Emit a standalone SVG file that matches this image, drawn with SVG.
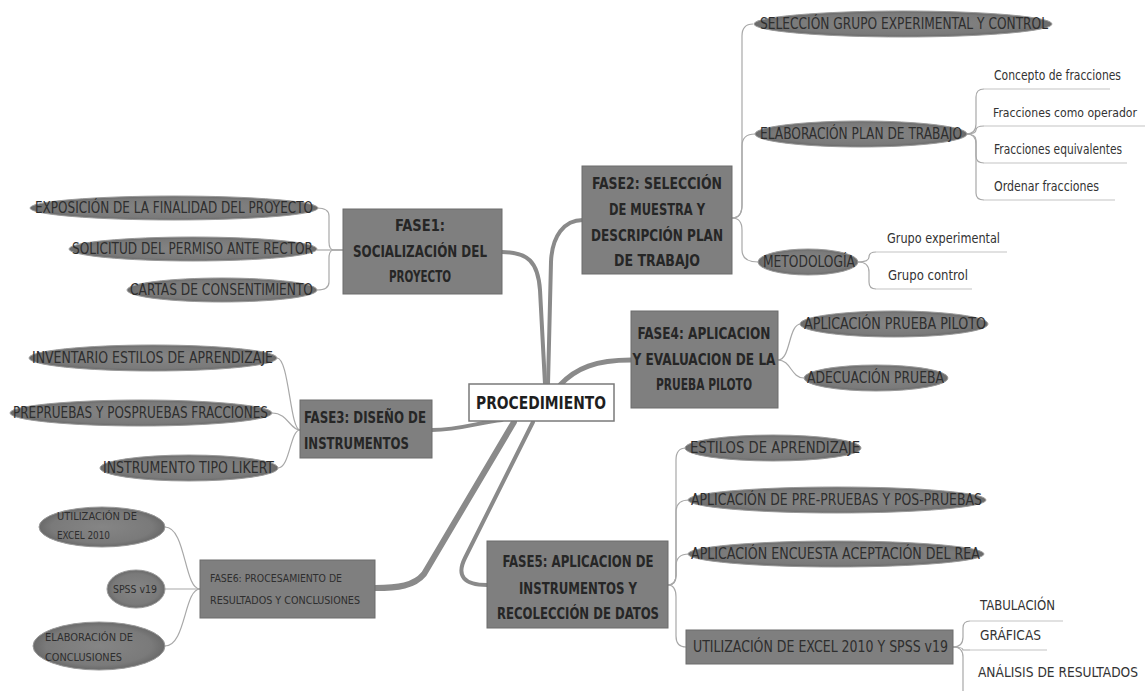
<svg xmlns="http://www.w3.org/2000/svg" width="1147" height="691" viewBox="0 0 1147 691">
<defs>
<radialGradient id="eg" cx="50%" cy="50%" r="50%">
<stop offset="0" stop-color="#858585"/>
<stop offset="0.8" stop-color="#7a7a7a"/>
<stop offset="1" stop-color="#6a6a6a"/>
</radialGradient>
<style>
.bg{fill:#ffffff}
.ell{fill:url(#eg);stroke:#9a9a9a;stroke-width:1}
.box{fill:#7f7f7f;stroke:#6c6c6c;stroke-width:1}
.root{fill:#ffffff;stroke:#7a7a7a;stroke-width:1.5}
.et{font-family:"DejaVu Sans Condensed","Liberation Sans",sans-serif;font-size:15px;fill:#2e2e2e;dominant-baseline:central}
.bt{font-family:"DejaVu Sans Condensed","Liberation Sans",sans-serif;font-size:15px;font-weight:bold;fill:#262626;dominant-baseline:central;text-anchor:middle}
.btl{text-anchor:start}
.rt{font-family:"DejaVu Sans Condensed","Liberation Sans",sans-serif;font-size:17px;font-weight:bold;fill:#1e1e1e;dominant-baseline:central;text-anchor:middle}
.pt{font-family:"DejaVu Sans Condensed","Liberation Sans",sans-serif;font-size:14px;fill:#333333;dominant-baseline:central}
.pts{font-size:12.5px}
.st{font-family:"DejaVu Sans Condensed","Liberation Sans",sans-serif;font-size:11px;fill:#2e2e2e;dominant-baseline:central}
.tr{fill:none;stroke:#8a8a8a;stroke-linecap:round}
.br{fill:none;stroke:#a8a8a8;stroke-width:1.2}
.ul{fill:none;stroke:#c4c4c4;stroke-width:1.2}
</style>
</defs>
<rect class="bg" x="0" y="0" width="1147" height="691"/>

<g id="connectors">
<path class="tr" stroke-width="4" d="M502,252 C528,252 538,262 540,290 L545,384"/>
<path class="tr" stroke-width="4" d="M548,384 L551,262 C552,236 564,220 583,220"/>
<path class="tr" stroke-width="5" d="M560,385 C576,368 596,360 631,360"/>
<path class="tr" stroke-width="4" d="M432,430 C460,430 480,422 502,420"/>
<path class="tr" stroke-width="6" d="M375,588 C398,588 414,586 424,574 L514,422"/>
<path class="tr" stroke-width="4" d="M533,422 L465,558 C456,576 464,585 487,585"/>
<path class="br" d="M343,250 H334 Q329,250 329,242 V216 Q329,208 317,208"/>
<path class="br" d="M343,250 H317"/>
<path class="br" d="M343,250 H334 Q329,250 329,258 V282 Q329,290 317,290"/>
<path class="br" d="M300,430 C290,430 289,358 277,358"/>
<path class="br" d="M300,430 C290,430 288,413 272,413"/>
<path class="br" d="M300,430 C290,430 290,468 278,468"/>
<path class="br" d="M200,589 C184,589 186,527 165,527"/>
<path class="br" d="M200,589 H165"/>
<path class="br" d="M200,589 C184,589 186,646 165,646"/>
<path class="br" d="M732,218 Q742,218 742,205 V36 Q742,24 753,24"/>
<path class="br" d="M732,218 Q742,218 742,205 V146 Q742,134 755,134"/>
<path class="br" d="M732,218 Q742,218 742,230 V250 Q742,262 758,262"/>
<path class="br" d="M966,134 Q976,134 976,124 V97 Q976,89 984,89"/>
<path class="br" d="M966,134 Q976,134 976,130 Q976,126 984,126"/>
<path class="br" d="M966,134 Q976,134 976,140 V156 Q976,163 984,163"/>
<path class="br" d="M966,134 Q976,134 976,144 V193 Q976,200 984,200"/>
<path class="ul" d="M984,89 H1110 M984,126 H1145 M984,163 H1127 M984,200 H1115"/>
<path class="br" d="M858,262 Q869,262 869,257 Q869,252 876,252"/>
<path class="br" d="M858,262 Q869,262 869,272 V282 Q869,289 876,289"/>
<path class="ul" d="M876,252 H1007 M876,289 H972"/>
<path class="br" d="M778,360 C791,360 788,324 801,324"/>
<path class="br" d="M778,360 C791,360 791,378 804,378"/>
<path class="br" d="M668,585 Q676,585 676,575 V460 Q676,448 686,448"/>
<path class="br" d="M668,585 Q676,585 676,575 V512 Q676,500 689,500"/>
<path class="br" d="M668,585 Q676,585 676,575 V566 Q676,554 689,554"/>
<path class="br" d="M668,585 Q676,585 676,597 V636 Q676,647 686,647"/>
<path class="br" d="M953,647 Q963,647 963,637 V628 Q963,621 970,621"/>
<path class="br" d="M953,647 Q963,647 963,650 Q963,650 970,650"/>
<path class="br" d="M953,647 Q963,647 963,657 V691"/>
<path class="ul" d="M970,621 H1063 M970,650 H1047"/>
</g>

<g id="root">
<rect class="root" x="469" y="384" width="145" height="37"/>
<text class="rt" x="541" y="403" textLength="130" lengthAdjust="spacingAndGlyphs">PROCEDIMIENTO</text>
</g>

<g id="fase1">
<rect class="box" x="343" y="209" width="159" height="85"/>
<text class="bt" x="420" y="226" textLength="50" lengthAdjust="spacingAndGlyphs">FASE1:</text>
<text class="bt" x="420" y="252" textLength="134" lengthAdjust="spacingAndGlyphs">SOCIALIZACIÓN DEL</text>
<text class="bt" x="420" y="277" textLength="62" lengthAdjust="spacingAndGlyphs">PROYECTO</text>
</g>
<g id="f1a">
<ellipse class="ell" cx="174" cy="208" rx="144" ry="12"/>
<text class="et" x="35" y="208" textLength="278" lengthAdjust="spacingAndGlyphs">EXPOSICIÓN DE LA FINALIDAD DEL PROYECTO</text>
</g>
<g id="f1b">
<ellipse class="ell" cx="193" cy="249" rx="124" ry="12"/>
<text class="et" x="72" y="249" textLength="241" lengthAdjust="spacingAndGlyphs">SOLICITUD DEL PERMISO ANTE RECTOR</text>
</g>
<g id="f1c">
<ellipse class="ell" cx="222" cy="290" rx="95" ry="12"/>
<text class="et" x="130" y="290" textLength="183" lengthAdjust="spacingAndGlyphs">CARTAS DE CONSENTIMIENTO</text>
</g>

<g id="fase3">
<rect class="box" x="300" y="400" width="132" height="58"/>
<text class="bt btl" x="304" y="418" textLength="122" lengthAdjust="spacingAndGlyphs">FASE3: DISEÑO DE</text>
<text class="bt btl" x="304" y="444" textLength="105" lengthAdjust="spacingAndGlyphs">INSTRUMENTOS</text>
</g>
<g id="f3a">
<ellipse class="ell" cx="153" cy="358" rx="124" ry="13"/>
<text class="et" x="32" y="358" textLength="241" lengthAdjust="spacingAndGlyphs">INVENTARIO ESTILOS DE APRENDIZAJE</text>
</g>
<g id="f3b">
<ellipse class="ell" cx="141" cy="413" rx="131" ry="13"/>
<text class="et" x="13" y="413" textLength="255" lengthAdjust="spacingAndGlyphs">PREPRUEBAS Y POSPRUEBAS FRACCIONES</text>
</g>
<g id="f3c">
<ellipse class="ell" cx="189" cy="468" rx="89" ry="13"/>
<text class="et" x="103" y="468" textLength="171" lengthAdjust="spacingAndGlyphs">INSTRUMENTO TIPO LIKERT</text>
</g>

<g id="fase6">
<rect class="box" x="200" y="560" width="175" height="58"/>
<text class="st" x="210" y="578" textLength="132" lengthAdjust="spacingAndGlyphs">FASE6: PROCESAMIENTO DE</text>
<text class="st" x="210" y="600" textLength="150" lengthAdjust="spacingAndGlyphs">RESULTADOS Y CONCLUSIONES</text>
</g>
<g id="f6a">
<ellipse class="ell" cx="102" cy="527" rx="63" ry="20"/>
<text class="st" x="57" y="516" textLength="80" lengthAdjust="spacingAndGlyphs">UTILIZACIÓN DE</text>
<text class="st" x="57" y="535" textLength="53" lengthAdjust="spacingAndGlyphs">EXCEL 2010</text>
</g>
<g id="f6b">
<ellipse class="ell" cx="136" cy="589" rx="29" ry="19"/>
<text class="st" x="113" y="589" textLength="44" lengthAdjust="spacingAndGlyphs">SPSS v19</text>
</g>
<g id="f6c">
<ellipse class="ell" cx="99" cy="646" rx="66" ry="24"/>
<text class="st" x="45" y="637" textLength="88" lengthAdjust="spacingAndGlyphs">ELABORACIÓN DE</text>
<text class="st" x="45" y="657" textLength="77" lengthAdjust="spacingAndGlyphs">CONCLUSIONES</text>
</g>

<g id="fase2">
<rect class="box" x="582" y="166" width="150" height="108"/>
<text class="bt" x="657" y="184" textLength="130" lengthAdjust="spacingAndGlyphs">FASE2: SELECCIÓN</text>
<text class="bt" x="657" y="210" textLength="96" lengthAdjust="spacingAndGlyphs">DE MUESTRA Y</text>
<text class="bt" x="657" y="236" textLength="132" lengthAdjust="spacingAndGlyphs">DESCRIPCIÓN PLAN</text>
<text class="bt" x="657" y="261" textLength="86" lengthAdjust="spacingAndGlyphs">DE TRABAJO</text>
</g>
<g id="f2a">
<ellipse class="ell" cx="903" cy="24" rx="149" ry="13"/>
<text class="et" x="760" y="24" textLength="288" lengthAdjust="spacingAndGlyphs">SELECCIÓN GRUPO EXPERIMENTAL Y CONTROL</text>
</g>
<g id="f2b">
<ellipse class="ell" cx="861" cy="134" rx="106" ry="13"/>
<text class="et" x="760" y="134" textLength="202" lengthAdjust="spacingAndGlyphs">ELABORACIÓN PLAN DE TRABAJO</text>
</g>
<g id="f2b1"><text class="pt" x="994" y="75" textLength="127" lengthAdjust="spacingAndGlyphs">Concepto de fracciones</text></g>
<g id="f2b2"><text class="pt pts" x="993" y="112" textLength="144" lengthAdjust="spacingAndGlyphs">Fracciones como operador</text></g>
<g id="f2b3"><text class="pt" x="994" y="149" textLength="128" lengthAdjust="spacingAndGlyphs">Fracciones equivalentes</text></g>
<g id="f2b4"><text class="pt" x="994" y="186" textLength="105" lengthAdjust="spacingAndGlyphs">Ordenar fracciones</text></g>
<g id="f2c">
<ellipse class="ell" cx="808" cy="262" rx="50" ry="13"/>
<text class="et" x="763" y="262" textLength="92" lengthAdjust="spacingAndGlyphs">METODOLOGÍA</text>
</g>
<g id="f2c1"><text class="pt" x="887" y="238" textLength="113" lengthAdjust="spacingAndGlyphs">Grupo experimental</text></g>
<g id="f2c2"><text class="pt" x="888" y="275" textLength="80" lengthAdjust="spacingAndGlyphs">Grupo control</text></g>

<g id="fase4">
<rect class="box" x="631" y="311" width="147" height="97"/>
<text class="bt" x="704" y="334" textLength="133" lengthAdjust="spacingAndGlyphs">FASE4: APLICACION</text>
<text class="bt" x="704" y="360" textLength="143" lengthAdjust="spacingAndGlyphs">Y EVALUACION DE LA</text>
<text class="bt" x="704" y="385" textLength="96" lengthAdjust="spacingAndGlyphs">PRUEBA PILOTO</text>
</g>
<g id="f4a">
<ellipse class="ell" cx="894" cy="324" rx="94" ry="13"/>
<text class="et" x="804" y="324" textLength="182" lengthAdjust="spacingAndGlyphs">APLICACIÓN PRUEBA PILOTO</text>
</g>
<g id="f4b">
<ellipse class="ell" cx="876" cy="378" rx="72" ry="13"/>
<text class="et" x="807" y="378" textLength="137" lengthAdjust="spacingAndGlyphs">ADECUACIÓN PRUEBA</text>
</g>

<g id="fase5">
<rect class="box" x="487" y="541" width="181" height="87"/>
<text class="bt" x="578" y="562" textLength="151" lengthAdjust="spacingAndGlyphs">FASE5: APLICACION DE</text>
<text class="bt" x="578" y="589" textLength="118" lengthAdjust="spacingAndGlyphs">INSTRUMENTOS Y</text>
<text class="bt" x="578" y="614" textLength="162" lengthAdjust="spacingAndGlyphs">RECOLECCIÓN DE DATOS</text>
</g>
<g id="f5a">
<ellipse class="ell" cx="773" cy="448" rx="88" ry="13"/>
<text class="et" x="690" y="448" textLength="170" lengthAdjust="spacingAndGlyphs">ESTILOS DE APRENDIZAJE</text>
</g>
<g id="f5b">
<ellipse class="ell" cx="837" cy="500" rx="149" ry="13"/>
<text class="et" x="691" y="500" textLength="291" lengthAdjust="spacingAndGlyphs">APLICACIÓN DE PRE-PRUEBAS Y POS-PRUEBAS</text>
</g>
<g id="f5c">
<ellipse class="ell" cx="836" cy="554" rx="148" ry="13"/>
<text class="et" x="691" y="554" textLength="289" lengthAdjust="spacingAndGlyphs">APLICACIÓN ENCUESTA ACEPTACIÓN DEL REA</text>
</g>
<g id="f5d">
<rect class="box" x="686" y="630" width="267" height="34"/>
<text class="et" x="693" y="647" textLength="255" lengthAdjust="spacingAndGlyphs">UTILIZACIÓN DE EXCEL 2010 Y SPSS v19</text>
</g>
<g id="f5d1"><text class="pt" x="980" y="605" textLength="75" lengthAdjust="spacingAndGlyphs">TABULACIÓN</text></g>
<g id="f5d2"><text class="pt" x="980" y="635" textLength="61" lengthAdjust="spacingAndGlyphs">GRÁFICAS</text></g>
<g id="f5d3"><text class="pt" x="978" y="672" textLength="160" lengthAdjust="spacingAndGlyphs">ANÁLISIS DE RESULTADOS</text></g>
</svg>
